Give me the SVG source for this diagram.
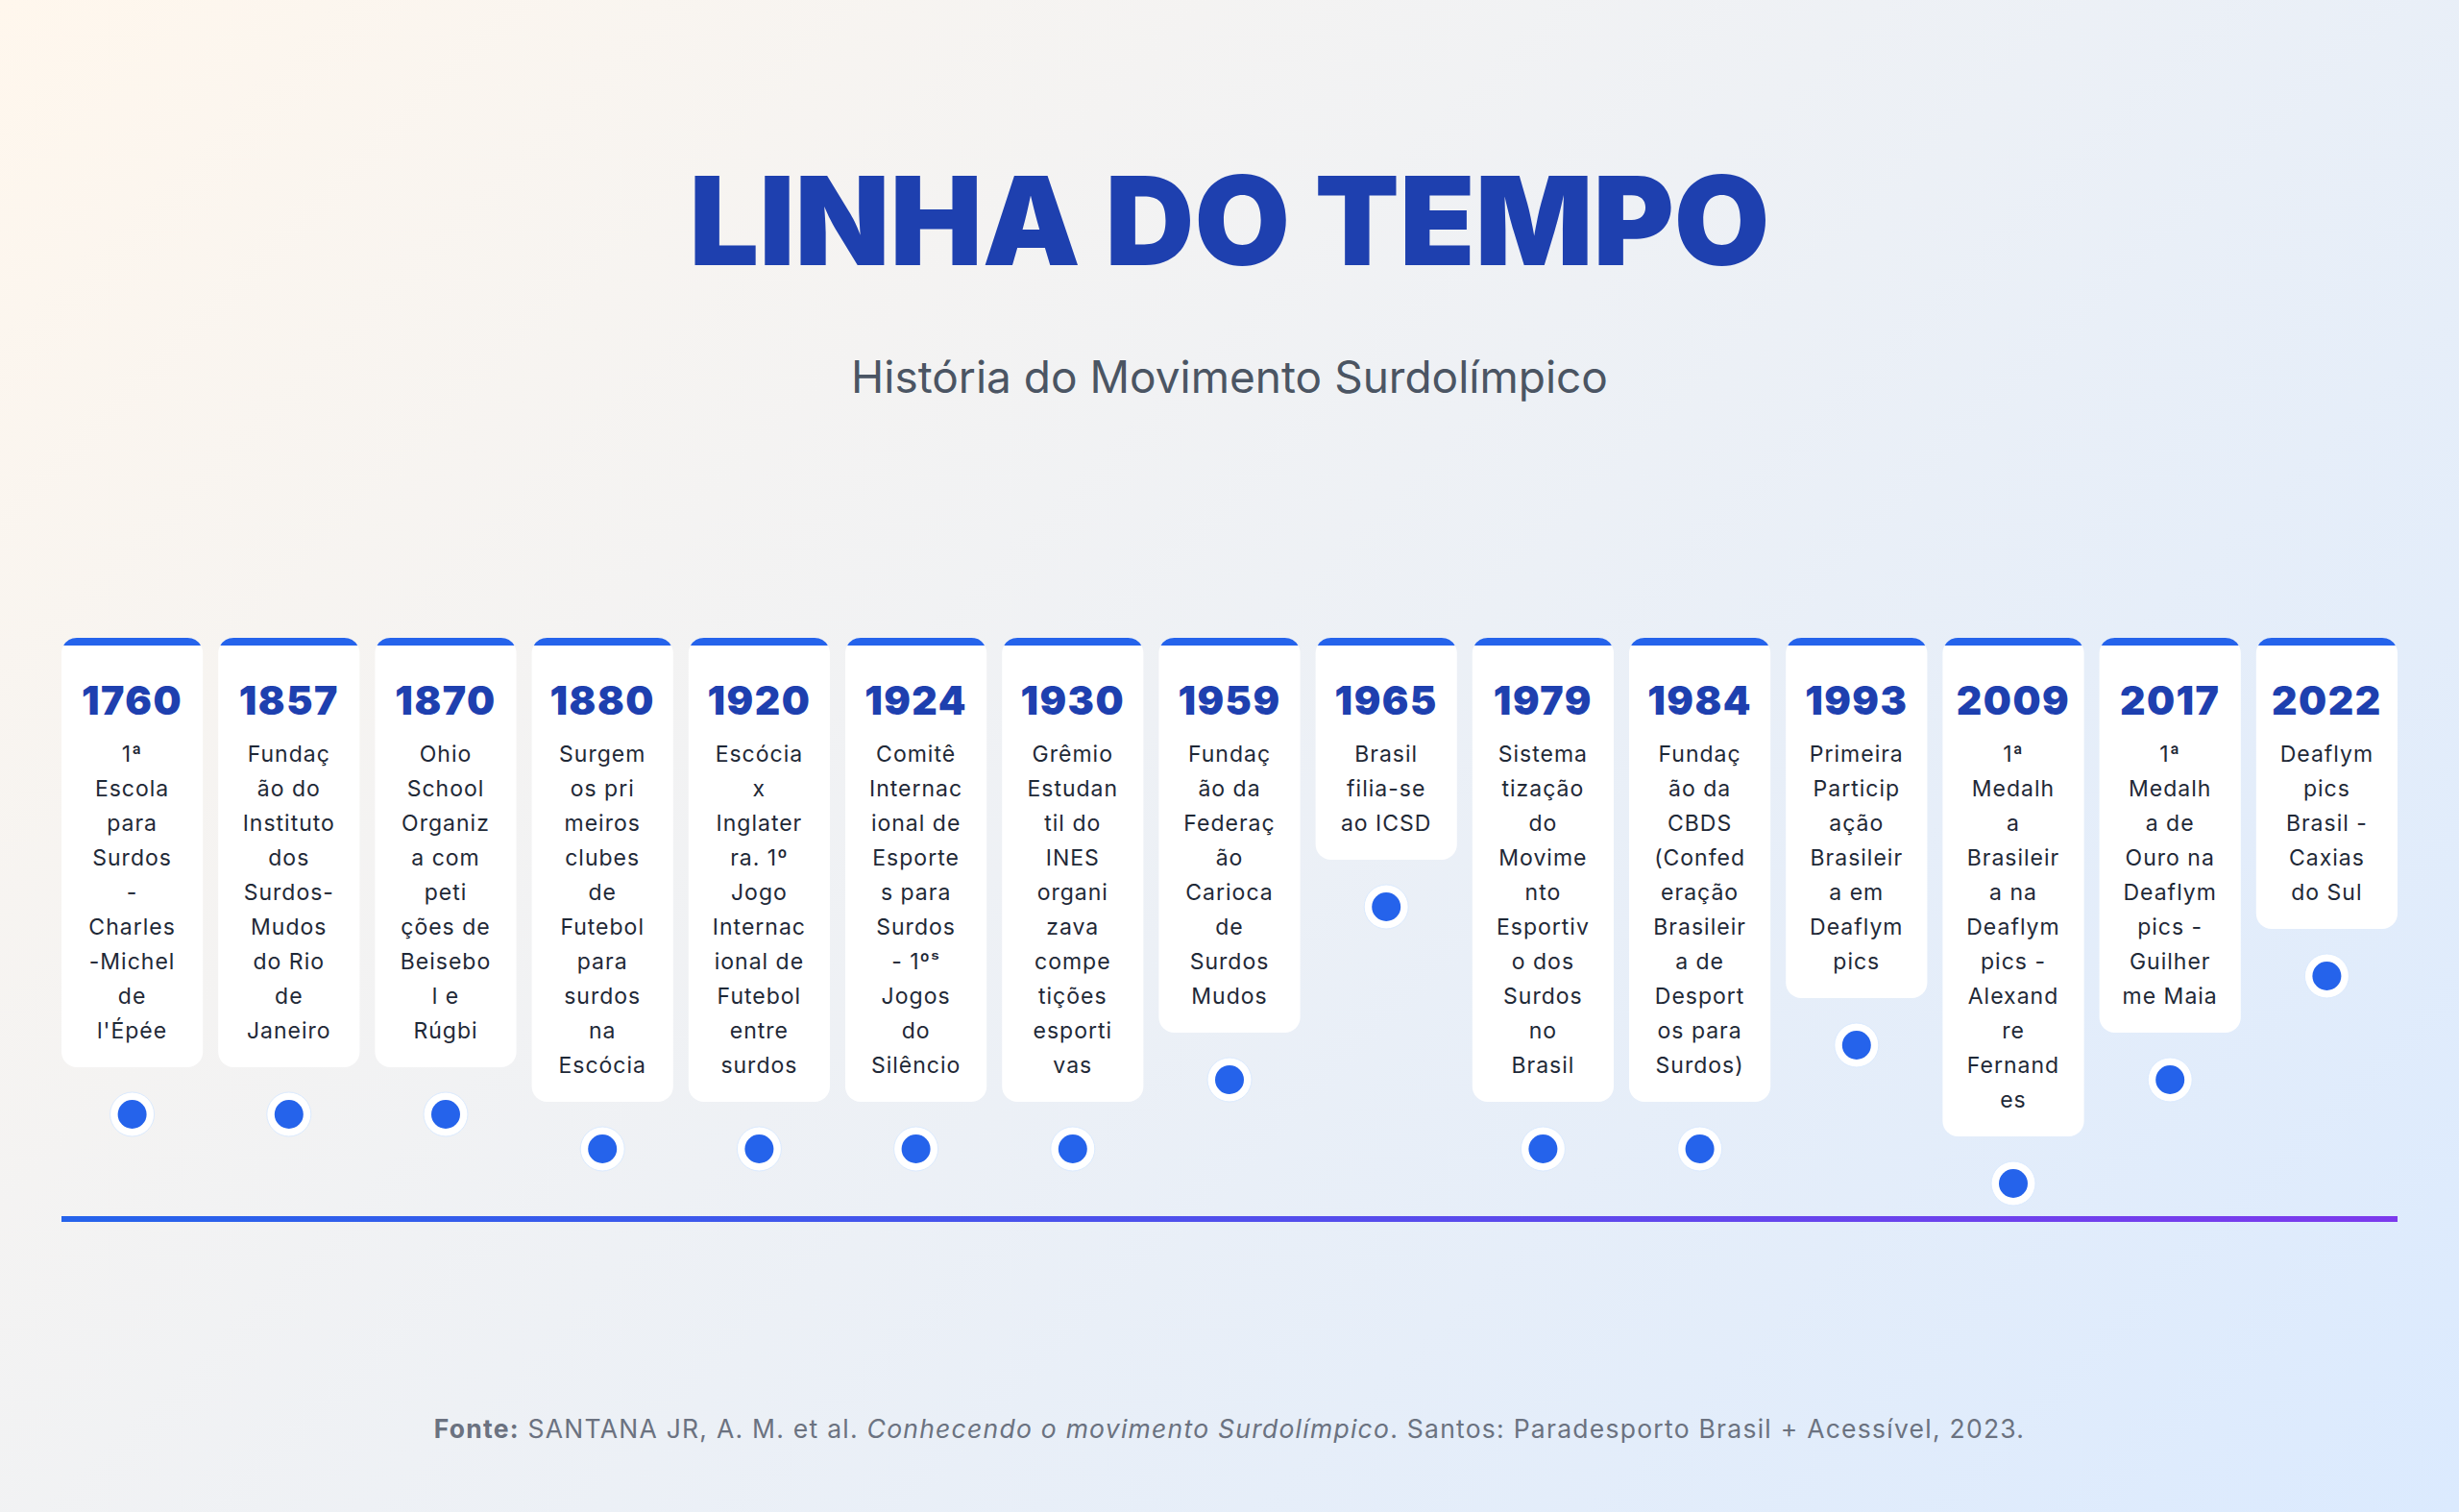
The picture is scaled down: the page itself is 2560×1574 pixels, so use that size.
<svg xmlns="http://www.w3.org/2000/svg" width="2560" height="1574" viewBox="0 0 2560 1574">
<defs>
<linearGradient id="bg" gradientUnits="userSpaceOnUse" x1="246.5" y1="-246.5" x2="2313.5" y2="1820.5">
<stop offset="0" stop-color="#fff7ed"/>
<stop offset="1" stop-color="#dbeafe"/>
</linearGradient>
<linearGradient id="tl" x1="0" y1="0" x2="1" y2="0">
<stop offset="0" stop-color="#2563eb"/>
<stop offset="1" stop-color="#7c3aed"/>
</linearGradient>
<path id="band" d="M2.14,8 A16,16 0 0 1 16,0 L131.2,0 A16,16 0 0 1 145.06,8 Z"/>
<style>
.card{fill:#ffffff;}
.band{fill:#2563eb;}
.year{font-family:Inter,'Noto Sans','Liberation Sans',sans-serif;font-weight:900;font-size:41px;letter-spacing:1.5px;fill:#1e40af;text-anchor:middle;}
.desc{font-family:Inter,'Noto Sans','Liberation Sans',sans-serif;font-size:23px;letter-spacing:1px;fill:#1f2937;text-anchor:middle;}
.ring{fill:#ffffff;stroke:#dbeafe;stroke-width:1;}
.dot{fill:#2563eb;}
.title{font-family:Inter,'Noto Sans','Liberation Sans',sans-serif;font-weight:900;font-size:128.5px;fill:#1e40af;text-anchor:middle;}
.sub{font-family:Inter,'Noto Sans','Liberation Sans',sans-serif;font-size:46px;fill:#4b5563;text-anchor:middle;}
.foot{font-family:Inter,'Noto Sans','Liberation Sans',sans-serif;font-size:26.5px;letter-spacing:1.25px;fill:#6b7280;text-anchor:middle;}
</style>
</defs>
<rect width="2560" height="1574" fill="url(#bg)"/>
<g id="header">
<text class="title" x="1280" y="276">LINHA DO TEMPO</text>
<text class="sub" x="1280" y="409">História do Movimento Surdolímpico</text>
</g>
<g id="connectors">
<rect x="64" y="1266" width="2432" height="6" fill="url(#tl)"/>
</g>
<g id="card-1760" transform="translate(64,664)">
<rect class="card" width="147.2" height="447" rx="16"/><use href="#band" class="band"/>
<text class="year" x="73.6" y="80">1760</text>
<text class="desc" x="73.6" y="129">1ª</text><text class="desc" x="73.6" y="165">Escola</text><text class="desc" x="73.6" y="201">para</text><text class="desc" x="73.6" y="237">Surdos</text><text class="desc" x="73.6" y="273">-</text><text class="desc" x="73.6" y="309">Charles</text><text class="desc" x="73.6" y="345">-Michel</text><text class="desc" x="73.6" y="381">de</text><text class="desc" x="73.6" y="417">l'Épée</text>
<circle class="ring" cx="73.6" cy="496" r="23"/><circle class="dot" cx="73.6" cy="496" r="15"/>
</g>
<g id="card-1857" transform="translate(227.2,664)">
<rect class="card" width="147.2" height="447" rx="16"/><use href="#band" class="band"/>
<text class="year" x="73.6" y="80">1857</text>
<text class="desc" x="73.6" y="129">Fundaç</text><text class="desc" x="73.6" y="165">ão do</text><text class="desc" x="73.6" y="201">Instituto</text><text class="desc" x="73.6" y="237">dos</text><text class="desc" x="73.6" y="273">Surdos-</text><text class="desc" x="73.6" y="309">Mudos</text><text class="desc" x="73.6" y="345">do Rio</text><text class="desc" x="73.6" y="381">de</text><text class="desc" x="73.6" y="417">Janeiro</text>
<circle class="ring" cx="73.6" cy="496" r="23"/><circle class="dot" cx="73.6" cy="496" r="15"/>
</g>
<g id="card-1870" transform="translate(390.4,664)">
<rect class="card" width="147.2" height="447" rx="16"/><use href="#band" class="band"/>
<text class="year" x="73.6" y="80">1870</text>
<text class="desc" x="73.6" y="129">Ohio</text><text class="desc" x="73.6" y="165">School</text><text class="desc" x="73.6" y="201">Organiz</text><text class="desc" x="73.6" y="237">a com</text><text class="desc" x="73.6" y="273">peti</text><text class="desc" x="73.6" y="309">ções de</text><text class="desc" x="73.6" y="345">Beisebo</text><text class="desc" x="73.6" y="381">l e</text><text class="desc" x="73.6" y="417">Rúgbi</text>
<circle class="ring" cx="73.6" cy="496" r="23"/><circle class="dot" cx="73.6" cy="496" r="15"/>
</g>
<g id="card-1880" transform="translate(553.6,664)">
<rect class="card" width="147.2" height="483" rx="16"/><use href="#band" class="band"/>
<text class="year" x="73.6" y="80">1880</text>
<text class="desc" x="73.6" y="129">Surgem</text><text class="desc" x="73.6" y="165">os pri</text><text class="desc" x="73.6" y="201">meiros</text><text class="desc" x="73.6" y="237">clubes</text><text class="desc" x="73.6" y="273">de</text><text class="desc" x="73.6" y="309">Futebol</text><text class="desc" x="73.6" y="345">para</text><text class="desc" x="73.6" y="381">surdos</text><text class="desc" x="73.6" y="417">na</text><text class="desc" x="73.6" y="453">Escócia</text>
<circle class="ring" cx="73.6" cy="532" r="23"/><circle class="dot" cx="73.6" cy="532" r="15"/>
</g>
<g id="card-1920" transform="translate(716.8,664)">
<rect class="card" width="147.2" height="483" rx="16"/><use href="#band" class="band"/>
<text class="year" x="73.6" y="80">1920</text>
<text class="desc" x="73.6" y="129">Escócia</text><text class="desc" x="73.6" y="165">x</text><text class="desc" x="73.6" y="201">Inglater</text><text class="desc" x="73.6" y="237">ra. 1º</text><text class="desc" x="73.6" y="273">Jogo</text><text class="desc" x="73.6" y="309">Internac</text><text class="desc" x="73.6" y="345">ional de</text><text class="desc" x="73.6" y="381">Futebol</text><text class="desc" x="73.6" y="417">entre</text><text class="desc" x="73.6" y="453">surdos</text>
<circle class="ring" cx="73.6" cy="532" r="23"/><circle class="dot" cx="73.6" cy="532" r="15"/>
</g>
<g id="card-1924" transform="translate(880,664)">
<rect class="card" width="147.2" height="483" rx="16"/><use href="#band" class="band"/>
<text class="year" x="73.6" y="80">1924</text>
<text class="desc" x="73.6" y="129">Comitê</text><text class="desc" x="73.6" y="165">Internac</text><text class="desc" x="73.6" y="201">ional de</text><text class="desc" x="73.6" y="237">Esporte</text><text class="desc" x="73.6" y="273">s para</text><text class="desc" x="73.6" y="309">Surdos</text><text class="desc" x="73.6" y="345">- 1ºˢ</text><text class="desc" x="73.6" y="381">Jogos</text><text class="desc" x="73.6" y="417">do</text><text class="desc" x="73.6" y="453">Silêncio</text>
<circle class="ring" cx="73.6" cy="532" r="23"/><circle class="dot" cx="73.6" cy="532" r="15"/>
</g>
<g id="card-1930" transform="translate(1043.2,664)">
<rect class="card" width="147.2" height="483" rx="16"/><use href="#band" class="band"/>
<text class="year" x="73.6" y="80">1930</text>
<text class="desc" x="73.6" y="129">Grêmio</text><text class="desc" x="73.6" y="165">Estudan</text><text class="desc" x="73.6" y="201">til do</text><text class="desc" x="73.6" y="237">INES</text><text class="desc" x="73.6" y="273">organi</text><text class="desc" x="73.6" y="309">zava</text><text class="desc" x="73.6" y="345">compe</text><text class="desc" x="73.6" y="381">tições</text><text class="desc" x="73.6" y="417">esporti</text><text class="desc" x="73.6" y="453">vas</text>
<circle class="ring" cx="73.6" cy="532" r="23"/><circle class="dot" cx="73.6" cy="532" r="15"/>
</g>
<g id="card-1959" transform="translate(1206.4,664)">
<rect class="card" width="147.2" height="411" rx="16"/><use href="#band" class="band"/>
<text class="year" x="73.6" y="80">1959</text>
<text class="desc" x="73.6" y="129">Fundaç</text><text class="desc" x="73.6" y="165">ão da</text><text class="desc" x="73.6" y="201">Federaç</text><text class="desc" x="73.6" y="237">ão</text><text class="desc" x="73.6" y="273">Carioca</text><text class="desc" x="73.6" y="309">de</text><text class="desc" x="73.6" y="345">Surdos</text><text class="desc" x="73.6" y="381">Mudos</text>
<circle class="ring" cx="73.6" cy="460" r="23"/><circle class="dot" cx="73.6" cy="460" r="15"/>
</g>
<g id="card-1965" transform="translate(1369.6,664)">
<rect class="card" width="147.2" height="231" rx="16"/><use href="#band" class="band"/>
<text class="year" x="73.6" y="80">1965</text>
<text class="desc" x="73.6" y="129">Brasil</text><text class="desc" x="73.6" y="165">filia-se</text><text class="desc" x="73.6" y="201">ao ICSD</text>
<circle class="ring" cx="73.6" cy="280" r="23"/><circle class="dot" cx="73.6" cy="280" r="15"/>
</g>
<g id="card-1979" transform="translate(1532.8,664)">
<rect class="card" width="147.2" height="483" rx="16"/><use href="#band" class="band"/>
<text class="year" x="73.6" y="80">1979</text>
<text class="desc" x="73.6" y="129">Sistema</text><text class="desc" x="73.6" y="165">tização</text><text class="desc" x="73.6" y="201">do</text><text class="desc" x="73.6" y="237">Movime</text><text class="desc" x="73.6" y="273">nto</text><text class="desc" x="73.6" y="309">Esportiv</text><text class="desc" x="73.6" y="345">o dos</text><text class="desc" x="73.6" y="381">Surdos</text><text class="desc" x="73.6" y="417">no</text><text class="desc" x="73.6" y="453">Brasil</text>
<circle class="ring" cx="73.6" cy="532" r="23"/><circle class="dot" cx="73.6" cy="532" r="15"/>
</g>
<g id="card-1984" transform="translate(1696,664)">
<rect class="card" width="147.2" height="483" rx="16"/><use href="#band" class="band"/>
<text class="year" x="73.6" y="80">1984</text>
<text class="desc" x="73.6" y="129">Fundaç</text><text class="desc" x="73.6" y="165">ão da</text><text class="desc" x="73.6" y="201">CBDS</text><text class="desc" x="73.6" y="237">(Confed</text><text class="desc" x="73.6" y="273">eração</text><text class="desc" x="73.6" y="309">Brasileir</text><text class="desc" x="73.6" y="345">a de</text><text class="desc" x="73.6" y="381">Desport</text><text class="desc" x="73.6" y="417">os para</text><text class="desc" x="73.6" y="453">Surdos)</text>
<circle class="ring" cx="73.6" cy="532" r="23"/><circle class="dot" cx="73.6" cy="532" r="15"/>
</g>
<g id="card-1993" transform="translate(1859.2,664)">
<rect class="card" width="147.2" height="375" rx="16"/><use href="#band" class="band"/>
<text class="year" x="73.6" y="80">1993</text>
<text class="desc" x="73.6" y="129">Primeira</text><text class="desc" x="73.6" y="165">Particip</text><text class="desc" x="73.6" y="201">ação</text><text class="desc" x="73.6" y="237">Brasileir</text><text class="desc" x="73.6" y="273">a em</text><text class="desc" x="73.6" y="309">Deaflym</text><text class="desc" x="73.6" y="345">pics</text>
<circle class="ring" cx="73.6" cy="424" r="23"/><circle class="dot" cx="73.6" cy="424" r="15"/>
</g>
<g id="card-2009" transform="translate(2022.4,664)">
<rect class="card" width="147.2" height="519" rx="16"/><use href="#band" class="band"/>
<text class="year" x="73.6" y="80">2009</text>
<text class="desc" x="73.6" y="129">1ª</text><text class="desc" x="73.6" y="165">Medalh</text><text class="desc" x="73.6" y="201">a</text><text class="desc" x="73.6" y="237">Brasileir</text><text class="desc" x="73.6" y="273">a na</text><text class="desc" x="73.6" y="309">Deaflym</text><text class="desc" x="73.6" y="345">pics -</text><text class="desc" x="73.6" y="381">Alexand</text><text class="desc" x="73.6" y="417">re</text><text class="desc" x="73.6" y="453">Fernand</text><text class="desc" x="73.6" y="489">es</text>
<circle class="ring" cx="73.6" cy="568" r="23"/><circle class="dot" cx="73.6" cy="568" r="15"/>
</g>
<g id="card-2017" transform="translate(2185.6,664)">
<rect class="card" width="147.2" height="411" rx="16"/><use href="#band" class="band"/>
<text class="year" x="73.6" y="80">2017</text>
<text class="desc" x="73.6" y="129">1ª</text><text class="desc" x="73.6" y="165">Medalh</text><text class="desc" x="73.6" y="201">a de</text><text class="desc" x="73.6" y="237">Ouro na</text><text class="desc" x="73.6" y="273">Deaflym</text><text class="desc" x="73.6" y="309">pics -</text><text class="desc" x="73.6" y="345">Guilher</text><text class="desc" x="73.6" y="381">me Maia</text>
<circle class="ring" cx="73.6" cy="460" r="23"/><circle class="dot" cx="73.6" cy="460" r="15"/>
</g>
<g id="card-2022" transform="translate(2348.8,664)">
<rect class="card" width="147.2" height="303" rx="16"/><use href="#band" class="band"/>
<text class="year" x="73.6" y="80">2022</text>
<text class="desc" x="73.6" y="129">Deaflym</text><text class="desc" x="73.6" y="165">pics</text><text class="desc" x="73.6" y="201">Brasil -</text><text class="desc" x="73.6" y="237">Caxias</text><text class="desc" x="73.6" y="273">do Sul</text>
<circle class="ring" cx="73.6" cy="352" r="23"/><circle class="dot" cx="73.6" cy="352" r="15"/>
</g>
<g id="footer">
<text class="foot" x="1280" y="1497"><tspan font-weight="700">Fonte:</tspan> SANTANA JR, A. M. et al. <tspan font-style="italic">Conhecendo o movimento Surdolímpico</tspan>. Santos: Paradesporto Brasil + Acessível, 2023.</text>
</g>
</svg>
